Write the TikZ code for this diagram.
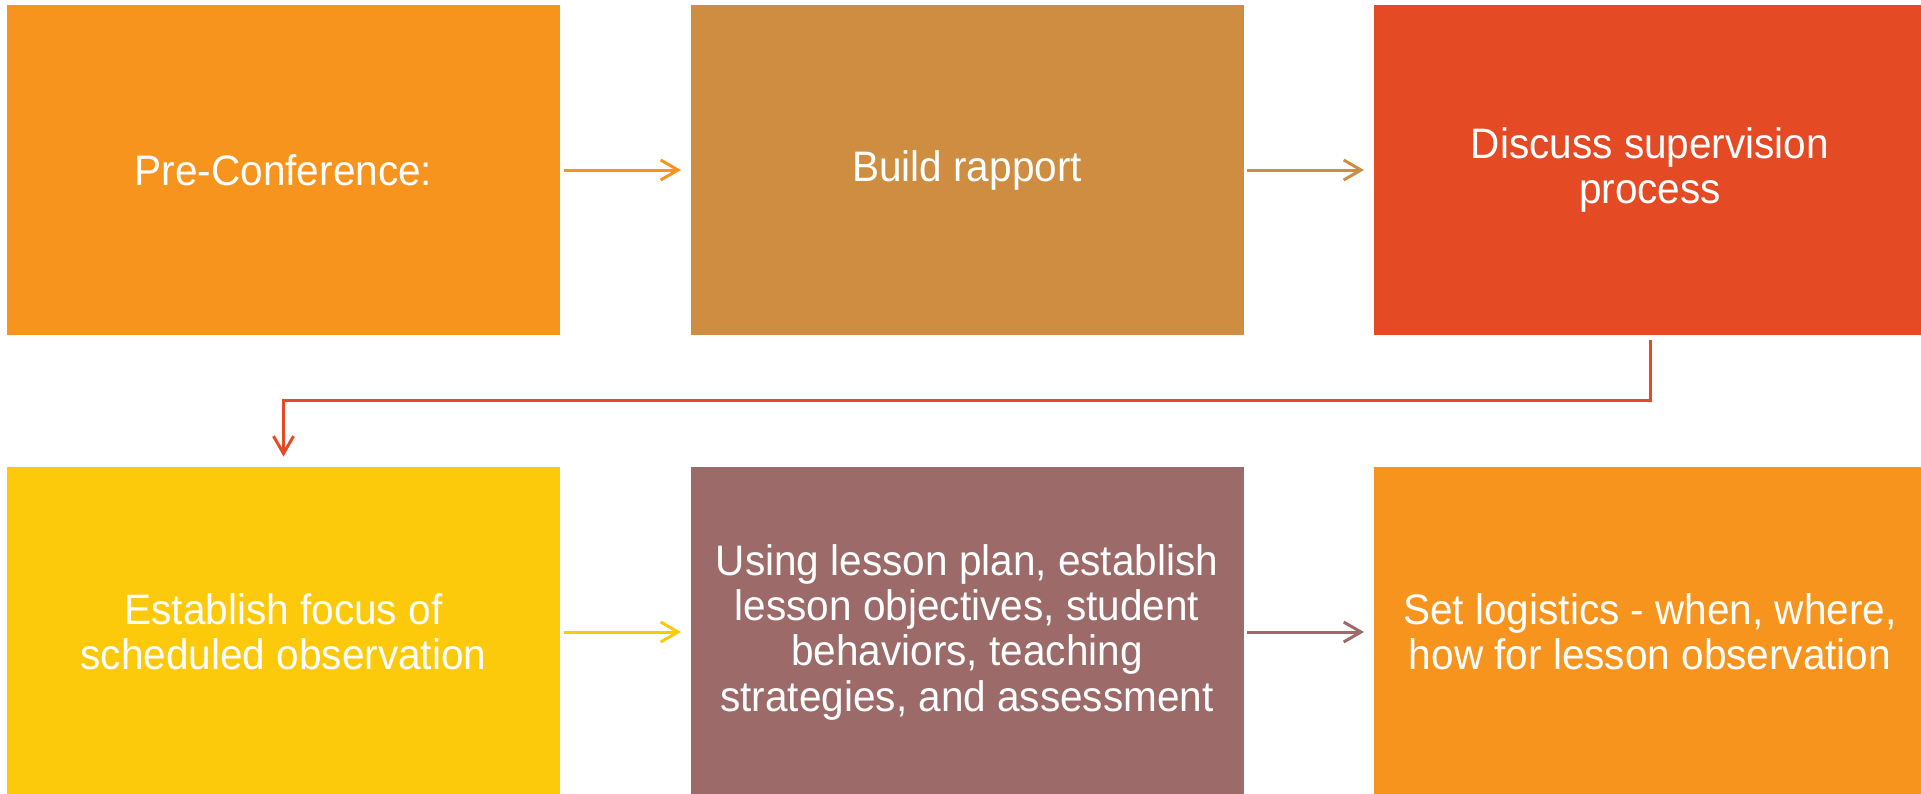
\documentclass[tikz,border=0pt]{standalone}
\usepackage{fontspec}
\setmainfont{Liberation Sans}[FakeStretch=0.95]
\usetikzlibrary{arrows.meta,calc}
\definecolor{preorange}{HTML}{F7941D}
\definecolor{rapportbrown}{HTML}{CE8D41}
\definecolor{processred}{HTML}{E44A23}
\definecolor{focusyellow}{HTML}{FDC90B}
\definecolor{planmauve}{HTML}{9C6A69}

\tikzset{every picture/.style={line width=0.75pt}}

\begin{document}
\begin{tikzpicture}[x=0.75pt,y=0.75pt,yscale=-1,xscale=1,
  stepbox/.style={minimum width=414.75pt,minimum height=247.5pt,inner sep=0pt,
    text=white,align=center,font=\fontsize{32}{34}\selectfont},
  flow/.style={line width=2.25pt,-{Straight Barb[length=13pt,width=15pt]},
    shorten <=2.25pt,shorten >=6.75pt}]
\useasboundingbox (0,0) rectangle (1921,793);

% Text Node
\node[stepbox,fill=preorange] (pre) at (283.5,170) {Pre-Conference:};
% Text Node
\node[stepbox,fill=rapportbrown] (rapport) at (967,170) {Build rapport};
% Text Node
\node[stepbox,fill=processred] (process) at (1650,170) {Discuss supervision\\process};
% Text Node
\node[stepbox,fill=focusyellow] (focus) at (283.5,632) {Establish focus of\\scheduled observation};
% Text Node
\node[stepbox,fill=planmauve] (plan) at (967,632) {Using lesson plan, establish\\lesson objectives, student\\behaviors, teaching\\strategies, and assessment};
% Text Node
\node[stepbox,fill=preorange] (logistics) at (1650,632) {Set logistics - when, where,\\how for lesson observation};

\draw[flow,preorange] (pre) -- (rapport);
\draw[flow,rapportbrown] (rapport) -- (process);
\draw[flow,processred,shorten <=0pt,shorten >=7.5pt] ($(process.south)+(0,4)$) -- ++(0,61) -| (focus.north);
\draw[flow,focusyellow] (focus) -- (plan);
\draw[flow,planmauve] (plan) -- (logistics);

\end{tikzpicture}
\end{document}
